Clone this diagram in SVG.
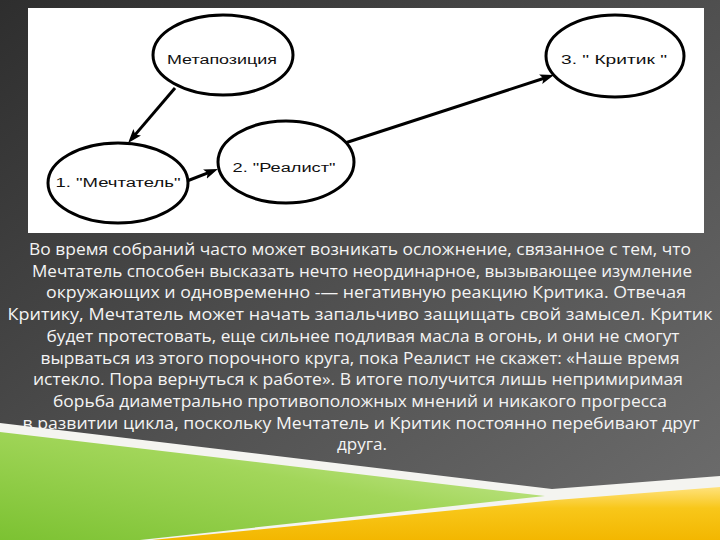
<svg xmlns="http://www.w3.org/2000/svg" width="720" height="540" viewBox="0 0 720 540">
<defs>
<linearGradient id="bg" x1="0" y1="0" x2="1" y2="1">
<stop offset="0" stop-color="#2e2e2e"/>
<stop offset="0.45" stop-color="#4c4c4c"/>
<stop offset="1" stop-color="#6e6e6e"/>
</linearGradient>
<linearGradient id="green" x1="0" y1="1" x2="1" y2="0">
<stop offset="0" stop-color="#7cc232"/>
<stop offset="0.55" stop-color="#a2d65a"/>
<stop offset="1" stop-color="#d8f0ac"/>
</linearGradient>
<linearGradient id="yellow" x1="0" y1="0" x2="0" y2="1">
<stop offset="0" stop-color="#ffe27c"/>
<stop offset="0.4" stop-color="#f8c71a"/>
<stop offset="1" stop-color="#f3b700"/>
</linearGradient>
<marker id="arr" markerUnits="userSpaceOnUse" markerWidth="16" markerHeight="12" refX="6" refY="5" orient="auto">
<path d="M0,0 L14,5 L0,10 L3,5 z" fill="#000"/>
</marker>
<style>
.node ellipse{fill:#fff;stroke:#000;stroke-width:3}
.node text{font-family:"Liberation Sans",Arial,sans-serif;font-size:12px;fill:#111;text-anchor:middle}
.conn path{fill:none;stroke:#000;stroke-width:3;marker-end:url(#arr)}
.body text{font-family:"Open Sans","Noto Sans",sans-serif;font-size:17px;fill:#f4f4f4;text-anchor:middle}
</style>
</defs>
<rect x="0" y="0" width="720" height="540" fill="url(#bg)"/>
<polygon points="0,423 552,489 720,476 720,540 0,540" fill="#f4f4f0"/>
<polygon points="0,432 545,496 140,540 0,540" fill="url(#green)"/>
<polygon points="152,540 556,500 720,487 720,540" fill="url(#yellow)"/>
<rect x="28" y="8" width="676" height="225" fill="#fff"/>
<g id="connectors" class="conn">
<path d="M175,88 L133.3,136.9"/>
<path d="M187,181 L210.5,171.9"/>
<path d="M345,143 L546.4,77.5"/>
</g>
<g id="metaposition" class="node">
<ellipse cx="223" cy="55" rx="70" ry="40"/>
<text x="222" y="64" textLength="110" lengthAdjust="spacingAndGlyphs">Метапозиция</text>
</g>
<g id="dreamer" class="node">
<ellipse cx="118" cy="183" rx="70" ry="40"/>
<text x="118" y="187" textLength="125" lengthAdjust="spacingAndGlyphs">1. "Мечтатель"</text>
</g>
<g id="realist" class="node">
<ellipse cx="286" cy="162" rx="68" ry="41"/>
<text x="284" y="172" textLength="103" lengthAdjust="spacingAndGlyphs">2. "Реалист"</text>
</g>
<g id="critic" class="node">
<ellipse cx="615" cy="56" rx="69" ry="41"/>
<text x="614" y="64" textLength="106" lengthAdjust="spacingAndGlyphs">3. " Критик "</text>
</g>
<g class="body">
<text x="360" y="255" textLength="662" lengthAdjust="spacingAndGlyphs">Во время собраний часто может возникать осложнение, связанное с тем, что</text>
<text x="362" y="276.7" textLength="660" lengthAdjust="spacingAndGlyphs">Мечтатель способен высказать нечто неординарное, вызывающее изумление</text>
<text x="366" y="298.4" textLength="640" lengthAdjust="spacingAndGlyphs">окружающих и одновременно -— негативную реакцию Критика. Отвечая</text>
<text x="360" y="320.1" textLength="705" lengthAdjust="spacingAndGlyphs">Критику, Мечтатель может начать запальчиво защищать свой замысел. Критик</text>
<text x="363" y="341.8" textLength="633" lengthAdjust="spacingAndGlyphs">будет протестовать, еще сильнее подливая масла в огонь, и они не смогут</text>
<text x="360" y="363.5" textLength="639" lengthAdjust="spacingAndGlyphs">вырваться из этого порочного круга, пока Реалист не скажет: «Наше время</text>
<text x="358" y="385.2" textLength="650" lengthAdjust="spacingAndGlyphs">истекло. Пора вернуться к работе». В итоге получится лишь непримиримая</text>
<text x="360" y="406.9" textLength="614" lengthAdjust="spacingAndGlyphs">борьба диаметрально противоположных мнений и никакого прогресса</text>
<text x="361" y="428.6" textLength="677" lengthAdjust="spacingAndGlyphs">в развитии цикла, поскольку Мечтатель и Критик постоянно перебивают друг</text>
<text x="362" y="450.3" textLength="50" lengthAdjust="spacingAndGlyphs">друга.</text>
</g>
</svg>
